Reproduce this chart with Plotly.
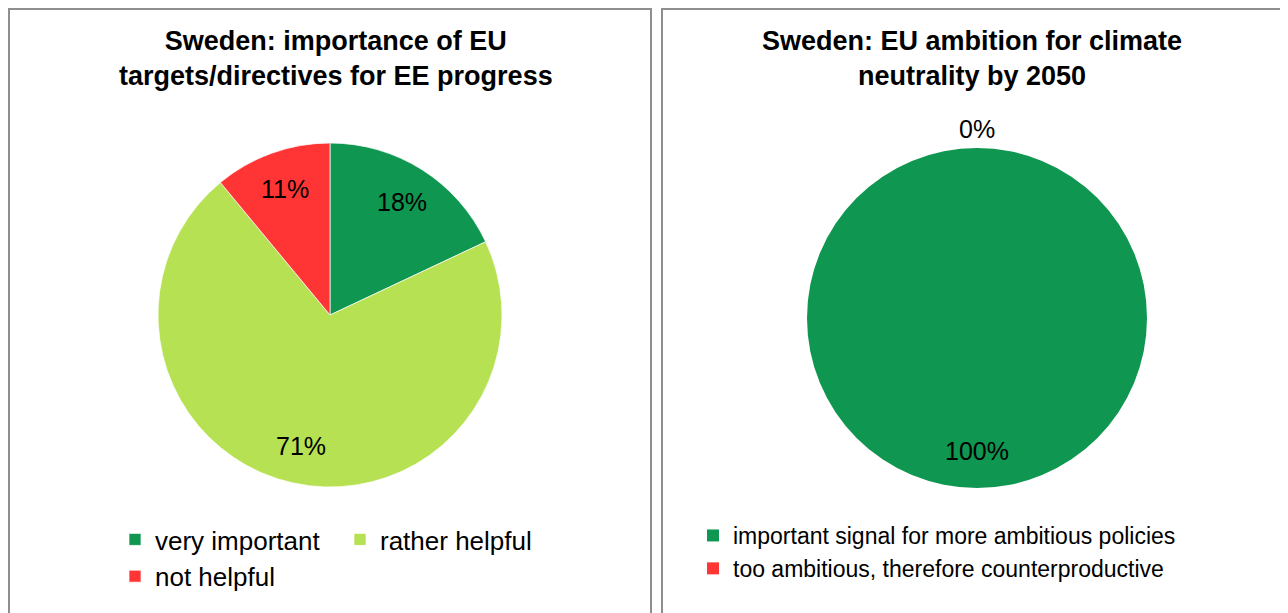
import math
import plotly.graph_objects as go

# ---------------- data ----------------
left_title = "Sweden: importance of EU<br>targets/directives for EE progress"
left_labels = ["very important", "rather helpful", "not helpful"]
left_values = [18, 71, 11]
left_colors = ["#0F9651", "#B5E152", "#FF3535"]

right_title = "Sweden: EU ambition for climate<br>neutrality by 2050"
right_labels = ["important signal for more ambitious policies",
                "too ambitious, therefore counterproductive"]
right_values = [100, 0]
right_colors = ["#0F9651", "#FF3535"]

# ---------------- geometry ----------------
W, H = 1288, 613
OX, OY = 8, 8          # page offset of the plot div
ML, MR, MT, MB = 145, 0, 0, 0
GW, GH = W - ML - MR, H - MT - MB


def px_x(px):
    return (px - OX - ML) / GW


def px_y(py):
    return 1 - (py - OY - MT) / GH


def domain(cx, cy, r):
    return dict(x=[px_x(cx - r), px_x(cx + r)], y=[px_y(cy + r), px_y(cy - r)])


LCX, LCY, LR = 330, 315, 172
RCX, RCY, RR = 977, 318, 170

FONT = "Liberation Sans, Arial, sans-serif"
LABEL_SIZE = 25

fig = go.Figure()

fig.add_trace(go.Pie(
    labels=left_labels, values=left_values, sort=False, direction="clockwise",
    rotation=0, marker=dict(colors=left_colors, line=dict(color="white", width=0.7)),
    textinfo="none",
    domain=domain(LCX, LCY, LR), legend="legend", hoverinfo="label+percent",
))

fig.add_trace(go.Pie(
    labels=right_labels, values=right_values, sort=False, direction="clockwise",
    rotation=0, marker=dict(colors=right_colors, line=dict(width=0)),
    textinfo="none",
    domain=domain(RCX, RCY, RR), legend="legend2", hoverinfo="label+percent",
))


def slice_labels(values, cx, cy, r):
    """Data labels placed along each slice's mid-angle (Excel style)."""
    out = []
    total = sum(values)
    cum = 0
    for v in values:
        frac = v / total
        mid = (cum + frac / 2) * 2 * math.pi
        cum += frac
        dist = 0.78 * r if frac > 0 else r + 19
        lx = cx + dist * math.sin(mid)
        ly = cy - dist * math.cos(mid)
        out.append(dict(
            x=px_x(lx), y=px_y(ly), xref="paper", yref="paper", showarrow=False,
            text=f"{round(frac * 100)}%", xanchor="center", yanchor="middle",
            font=dict(family=FONT, size=LABEL_SIZE, color="black")))
    return out


annotations = slice_labels(left_values, LCX, LCY, LR) + slice_labels(right_values, RCX, RCY, RR)

annotations.append(dict(
    x=px_x(336), y=px_y(59), xref="paper", yref="paper", showarrow=False,
    text=f"<b>{left_title}</b>", xanchor="center", yanchor="middle",
    font=dict(family=FONT, size=27, color="black")))
annotations.append(dict(
    x=px_x(972), y=px_y(59), xref="paper", yref="paper", showarrow=False,
    text=f"<b>{right_title}</b>", xanchor="center", yanchor="middle",
    font=dict(family=FONT, size=27, color="black")))

shapes = [
    dict(type="rect", xref="paper", yref="paper",
         x0=px_x(9), x1=px_x(651), y0=px_y(640), y1=px_y(9),
         line=dict(color="#8E8E8E", width=2), fillcolor="rgba(0,0,0,0)"),
    dict(type="rect", xref="paper", yref="paper",
         x0=px_x(662), x1=px_x(1320), y0=px_y(640), y1=px_y(9),
         line=dict(color="#8E8E8E", width=2), fillcolor="rgba(0,0,0,0)"),
]

fig.update_layout(
    width=W, height=H,
    margin=dict(l=ML, r=MR, t=MT, b=MB, autoexpand=False),
    paper_bgcolor="white", plot_bgcolor="white",
    font=dict(family=FONT, color="black"),
    annotations=annotations, shapes=shapes,
    legend=dict(orientation="h", x=px_x(115), y=px_y(516), xanchor="left", yanchor="top",
                entrywidth=180, entrywidthmode="pixels",
                font=dict(family=FONT, size=26, color="black"),
                bgcolor="rgba(0,0,0,0)", itemclick=False, itemdoubleclick=False),
    legend2=dict(orientation="v", x=px_x(693), y=px_y(514), xanchor="left", yanchor="top",
                 font=dict(family=FONT, size=23, color="black"),
                 bgcolor="rgba(0,0,0,0)", itemclick=False, itemdoubleclick=False),
)

fig.write_html("out.html")
